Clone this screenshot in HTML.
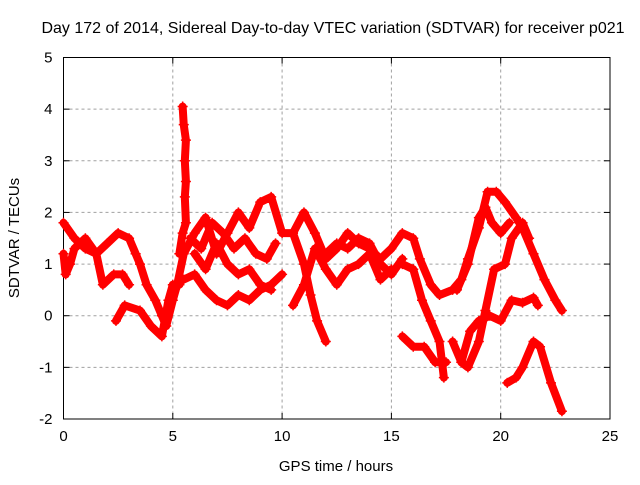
<!DOCTYPE html>
<html><head><meta charset="utf-8"><style>
body{margin:0;background:#fff;}
svg text{font-family:"Liberation Sans",sans-serif;font-size:15px;fill:#000;}
</style></head><body>
<svg id="chart" width="640" height="480">
<text x="333" y="33" text-anchor="middle" style="font-size:16px">Day 172 of 2014, Sidereal Day-to-day VTEC variation (SDTVAR) for receiver p021</text>
<text x="336" y="471" text-anchor="middle">GPS time / hours</text>
<text x="19" y="238" text-anchor="middle" transform="rotate(-90 19 238)">SDTVAR / TECUs</text>
<g id="grid"></g><g id="axes"></g><g id="marks"></g>
</svg>
<script>
const xTicks=[0,5,10,15,20,25];
const yTicks=[-2,-1,0,1,2,3,4,5];
const trackA=[[0,1.8],[0.5,1.5],[1,1.3],[1.5,1.2],[2,1.4],[2.5,1.6],[3,1.5],[3.3,1.2],[3.5,1.0],[3.8,0.6],[4.2,0.3],[4.5,0],[4.7,-0.2],[5,0.3],[5.2,0.6],[5.5,1.2],[6,1.6],[6.5,1.9],[7,1.2],[7.5,1.6],[8,2.0],[8.5,1.7],[9,2.2],[9.5,2.3],[10,1.6],[10.5,1.6],[11,2.0],[11.5,1.6],[12,1.1],[12.5,1.3],[13,1.6],[13.5,1.4],[14,1.3],[14.5,1.1],[15,1.3],[15.5,1.6],[16,1.5],[16.3,1.1],[16.8,0.6],[17.2,0.4],[17.8,0.5],[18.2,0.7],[18.5,1.1],[19,1.7],[19.4,2.4],[19.8,2.4],[20.2,2.2],[20.7,1.9],[21,1.7],[21.5,1.2],[22,0.7],[22.5,0.3],[22.8,0.1]];
const trackB=[[0,1.2],[0.1,0.8],[0.3,1.0],[0.5,1.3],[1,1.5],[1.5,1.2],[1.8,0.6],[2.3,0.8],[2.7,0.8],[3,0.6]];
const trackC=[[2.4,-0.1],[2.8,0.2],[3.5,0.1],[4,-0.2],[4.5,-0.4],[4.8,0.3],[5,0.6],[5.3,0.6]];
const trackD=[[5.3,1.2],[5.45,1.6],[5.6,1.8],[5.55,2.3],[5.6,2.6],[5.55,3.0],[5.6,3.4],[5.5,3.7],[5.45,4.05]];
const trackE=[[5.5,0.7],[6,0.8],[6.5,0.5],[7,0.3],[7.5,0.2],[8,0.4],[8.5,0.3],[9,0.5],[9.5,0.6],[10,0.8]];
const trackF=[[6,1.2],[6.5,0.9],[7,1.4],[7.5,1.0],[8,0.8],[8.5,0.9],[9,0.6],[9.5,0.5]];
const trackF2=[[5.8,1.5],[6.3,1.3],[6.8,1.8],[7.3,1.6],[7.8,1.3],[8.3,1.5],[8.8,1.2],[9.3,1.1],[9.7,1.4]];
const trackG=[[10.5,0.2],[11,0.6],[11.5,1.3],[12,0.9],[12.5,0.6],[13,0.9],[13.5,1.0],[14,1.2],[14.5,0.7],[15,0.9]];
const trackG2=[[12,1.2],[12.5,1.4],[13,1.3],[13.5,1.5],[14,1.4],[14.5,1.0],[15,0.8],[15.5,1.1]];
const trackH=[[10.5,1.6],[11,1.0],[11.3,0.4],[11.6,-0.1],[12,-0.5]];
const trackI=[[15.5,1.0],[16,0.9],[16.4,0.3],[16.8,-0.1],[17.2,-0.5],[17.4,-1.2]];
const trackJ=[[15.5,-0.4],[16,-0.6],[16.5,-0.6],[17,-0.9],[17.5,-0.9]];
const trackK=[[17.8,-0.5],[18.2,-0.9],[18.5,-1.0],[19,-0.5],[19.3,0.1],[19.7,0.9],[20.2,1.0],[20.5,1.5],[21,1.8],[21.3,1.5]];
const trackL=[[18,0.5],[18.5,1.0],[19,1.9],[19.3,2.1],[19.6,1.8],[20,1.6],[20.4,1.8]];
const trackM=[[18.2,-0.9],[18.6,-0.3],[19,-0.1],[19.5,0.0],[20,-0.1],[20.5,0.3],[21,0.25],[21.5,0.35],[21.7,0.2]];
const trackN=[[20.3,-1.3],[20.7,-1.2],[21,-1.0],[21.5,-0.5],[21.8,-0.6],[22.3,-1.3],[22.8,-1.85]];
const tracks=[trackA,trackB,trackC,trackD,trackE,trackF,trackF2,trackG,trackG2,trackH,trackI,trackJ,trackK,trackL,trackM,trackN];
const NS="http://www.w3.org/2000/svg";
const L=63.5,R=610,T=57.5,B=419;
const sx=v=>L+(v-0)/(25-0)*(R-L);
const sy=v=>B-(v+2)/7*(B-T);
function mk(t,a,p){const e=document.createElementNS(NS,t);for(const k in a)e.setAttribute(k,a[k]);p.appendChild(e);return e;}
const grid=document.getElementById('grid'),axes=document.getElementById('axes'),marks=document.getElementById('marks');
xTicks.forEach(v=>{const x=sx(v);
 if(v>0&&v<25){const g=mk('line',{x1:x,x2:x,y1:T,y2:B,stroke:'#a0a0a0','stroke-dasharray':'3,3'},grid);}
 mk('line',{x1:x,x2:x,y1:B,y2:B-6,stroke:'#000'},axes);mk('line',{x1:x,x2:x,y1:T,y2:T+6,stroke:'#000'},axes);
 const t=mk('text',{x:x,y:B+22,'text-anchor':'middle'},axes);t.textContent=v;
 });
yTicks.forEach(v=>{const y=sy(v);
 if(v>-2&&v<5){const g=mk('line',{x1:L,x2:R,y1:y,y2:y,stroke:'#a0a0a0','stroke-dasharray':'3,3'},grid);}
 mk('line',{x1:L,x2:L+6,y1:y,y2:y,stroke:'#000'},axes);mk('line',{x1:R,x2:R-6,y1:y,y2:y,stroke:'#000'},axes);
 const t=mk('text',{x:L-11,y:y+5,'text-anchor':'end'},axes);t.textContent=v;
 });
const frame=mk('rect',{x:L,y:T,width:R-L,height:B-T,fill:'none',stroke:'#000'},axes);

tracks.forEach(tr=>{
 const pl=mk('polyline',{points:tr.map(p=>sx(p[0])+','+sy(p[1])).join(' '),fill:'none',stroke:'#f00','stroke-width':8,'stroke-linejoin':'round','stroke-linecap':'round'},marks);
 
 
 tr.forEach(p=>{const x=sx(p[0]),y=sy(p[1]);
  const m=mk('path',{d:`M${x-5},${y}H${x+5}M${x},${y-5}V${y+5}`,stroke:'#f00','stroke-width':1.5},marks);
  
  });
});
</script>
</body></html>
